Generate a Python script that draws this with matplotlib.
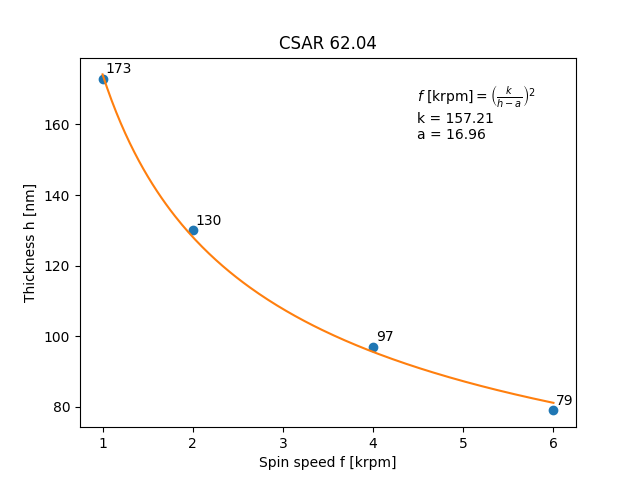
import numpy as np
import matplotlib
matplotlib.use("Agg")
import matplotlib.pyplot as plt

# mesures
speeds = [1, 2, 4, 6]          # krpm
thickness = [173, 130, 97, 79]  # nm

# paramètres du fit f = (k / (h - a))^2
k_fit = 157.21
a_fit = 16.96

fig, ax = plt.subplots(figsize=(6.4, 4.8), dpi=100)

ax.plot(speeds, thickness, 'o')
f = np.linspace(min(speeds), max(speeds), 200)
ax.plot(f, a_fit + k_fit / np.sqrt(f))

for s, h in zip(speeds, thickness):
    ax.annotate(f'{h}', (s, h), textcoords="offset points", xytext=(2, 4))

ax.text(0.68, 0.93,
        r'$f$ [krpm]$ = \left(\frac{k}{h-a}\right)^2$' + '\n'
        + f'k = {k_fit:.2f}\n' + f'a = {a_fit:.2f}',
        transform=ax.transAxes, va='top', ha='left')

ax.set_xlabel('Spin speed f [krpm]')
ax.set_ylabel('Thickness h [nm]')
ax.set_title('CSAR 62.04')

fig.savefig('out.png', dpi=100)
